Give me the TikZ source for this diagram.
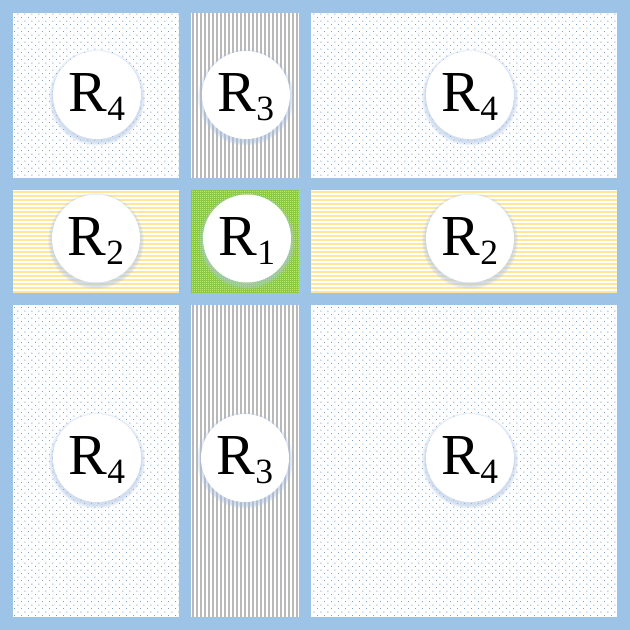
\documentclass[tikz,border=0pt]{standalone}
\usepackage{fontspec}
\setmainfont{Liberation Serif}
\usetikzlibrary{patterns}
\pgfdeclarepatternformonly{sparsedots}{\pgfpointorigin}{\pgfpoint{7.4pt}{7.4pt}}{\pgfpoint{7.4pt}{7.4pt}}{\pgfpathrectangle{\pgfpointorigin}{\pgfpoint{1pt}{1pt}}\pgfpathrectangle{\pgfpoint{3.7pt}{3.7pt}}{\pgfpoint{1pt}{1pt}}\pgfusepath{fill}}
\pgfdeclarepatternformonly{finedots}{\pgfpointorigin}{\pgfpoint{2pt}{2pt}}{\pgfpoint{2pt}{2pt}}{\pgfpathrectangle{\pgfpointorigin}{\pgfpoint{1pt}{1pt}}\pgfusepath{fill}}
\definecolor{gridblue}{RGB}{157,195,230}
\definecolor{dotblue}{RGB}{120,160,205}
\definecolor{stripegray}{RGB}{185,185,185}
\definecolor{stripeyellow}{RGB}{255,230,153}
\definecolor{cellgreen}{RGB}{140,200,70}
\definecolor{shadowblue}{RGB}{175,198,228}
\newcommand{\rlab}[1]{R\raisebox{-9pt}{\fontsize{35.5}{36}\selectfont #1}}
\begin{document}
\begin{tikzpicture}[x=1pt,y=-1pt,
  dotcell/.style={pattern=sparsedots,pattern color=dotblue},
  gridline/.style={draw=gridblue,line width=12pt},
  disc/.style={circle,fill=white,minimum size=88pt,inner sep=0pt},
  lbl/.style={anchor=base,inner sep=0pt,font=\fontsize{58}{60}\selectfont}]
\useasboundingbox (0,0) rectangle (630,630);
\fill[white] (0,0) rectangle (630,630);
% dotted cells
\fill[dotcell] (13,13) rectangle (179,178);
\fill[dotcell] (310.5,13) rectangle (617,178);
\fill[dotcell] (13,304) rectangle (179,617);
\fill[dotcell] (310.5,304) rectangle (617,617);
% gray vertical stripes
\foreach \x in {192,196,...,296}{
  \fill[stripegray] (\x,13) rectangle (\x+2,178);
  \fill[stripegray] (\x,304) rectangle (\x+2,617);
}
% yellow horizontal stripes
\foreach \y in {191,195,...,291}{
  \fill[stripeyellow] (13,\y) rectangle (179,\y+2);
  \fill[stripeyellow] (310.5,\y) rectangle (617,\y+2);
}
% green cell
\fill[cellgreen] (191,190) rectangle (299,293);
\fill[pattern=finedots,pattern color=white] (191,190) rectangle (299,293);
% grid
\draw[gridline,line width=13pt] (6.5,6.5) rectangle (623.5,623.5);
\draw[gridline] (185,0) -- (185,630);
\draw[gridline] (304.5,0) -- (304.5,630);
\draw[gridline] (0,184) -- (630,184);
\draw[gridline] (0,298.5) -- (630,298.5);
% discs
\foreach \n/\x/\y in {a/97/95,b/246/95,c/470/95,d/96/238.5,e/247/238.5,f/470/238.5,g/97/458,h/245/458,i/470/458}{
  \foreach \r in {48,47,46,45}{
    \fill[shadowblue,opacity=0.18] (\x,\y+2.5) circle (\r);
  }
  \node[disc] (c\n) at (\x,\y) {};
}
\node[lbl] (ta) at ([yshift=-16.5pt]ca.center) {\rlab{4}};
\node[lbl] (tb) at ([yshift=-16.5pt]cb.center) {\rlab{3}};
\node[lbl] (tc) at ([yshift=-16.5pt]cc.center) {\rlab{4}};
\node[lbl] (td) at ([yshift=-16.5pt]cd.center) {\rlab{2}};
\node[lbl] (te) at ([yshift=-16.5pt]ce.center) {\rlab{1}};
\node[lbl] (tf) at ([yshift=-16.5pt]cf.center) {\rlab{2}};
\node[lbl] (tg) at ([yshift=-16.5pt]cg.center) {\rlab{4}};
\node[lbl] (th) at ([yshift=-16.5pt]ch.center) {\rlab{3}};
\node[lbl] (ti) at ([yshift=-16.5pt]ci.center) {\rlab{4}};
\end{tikzpicture}
\end{document}
